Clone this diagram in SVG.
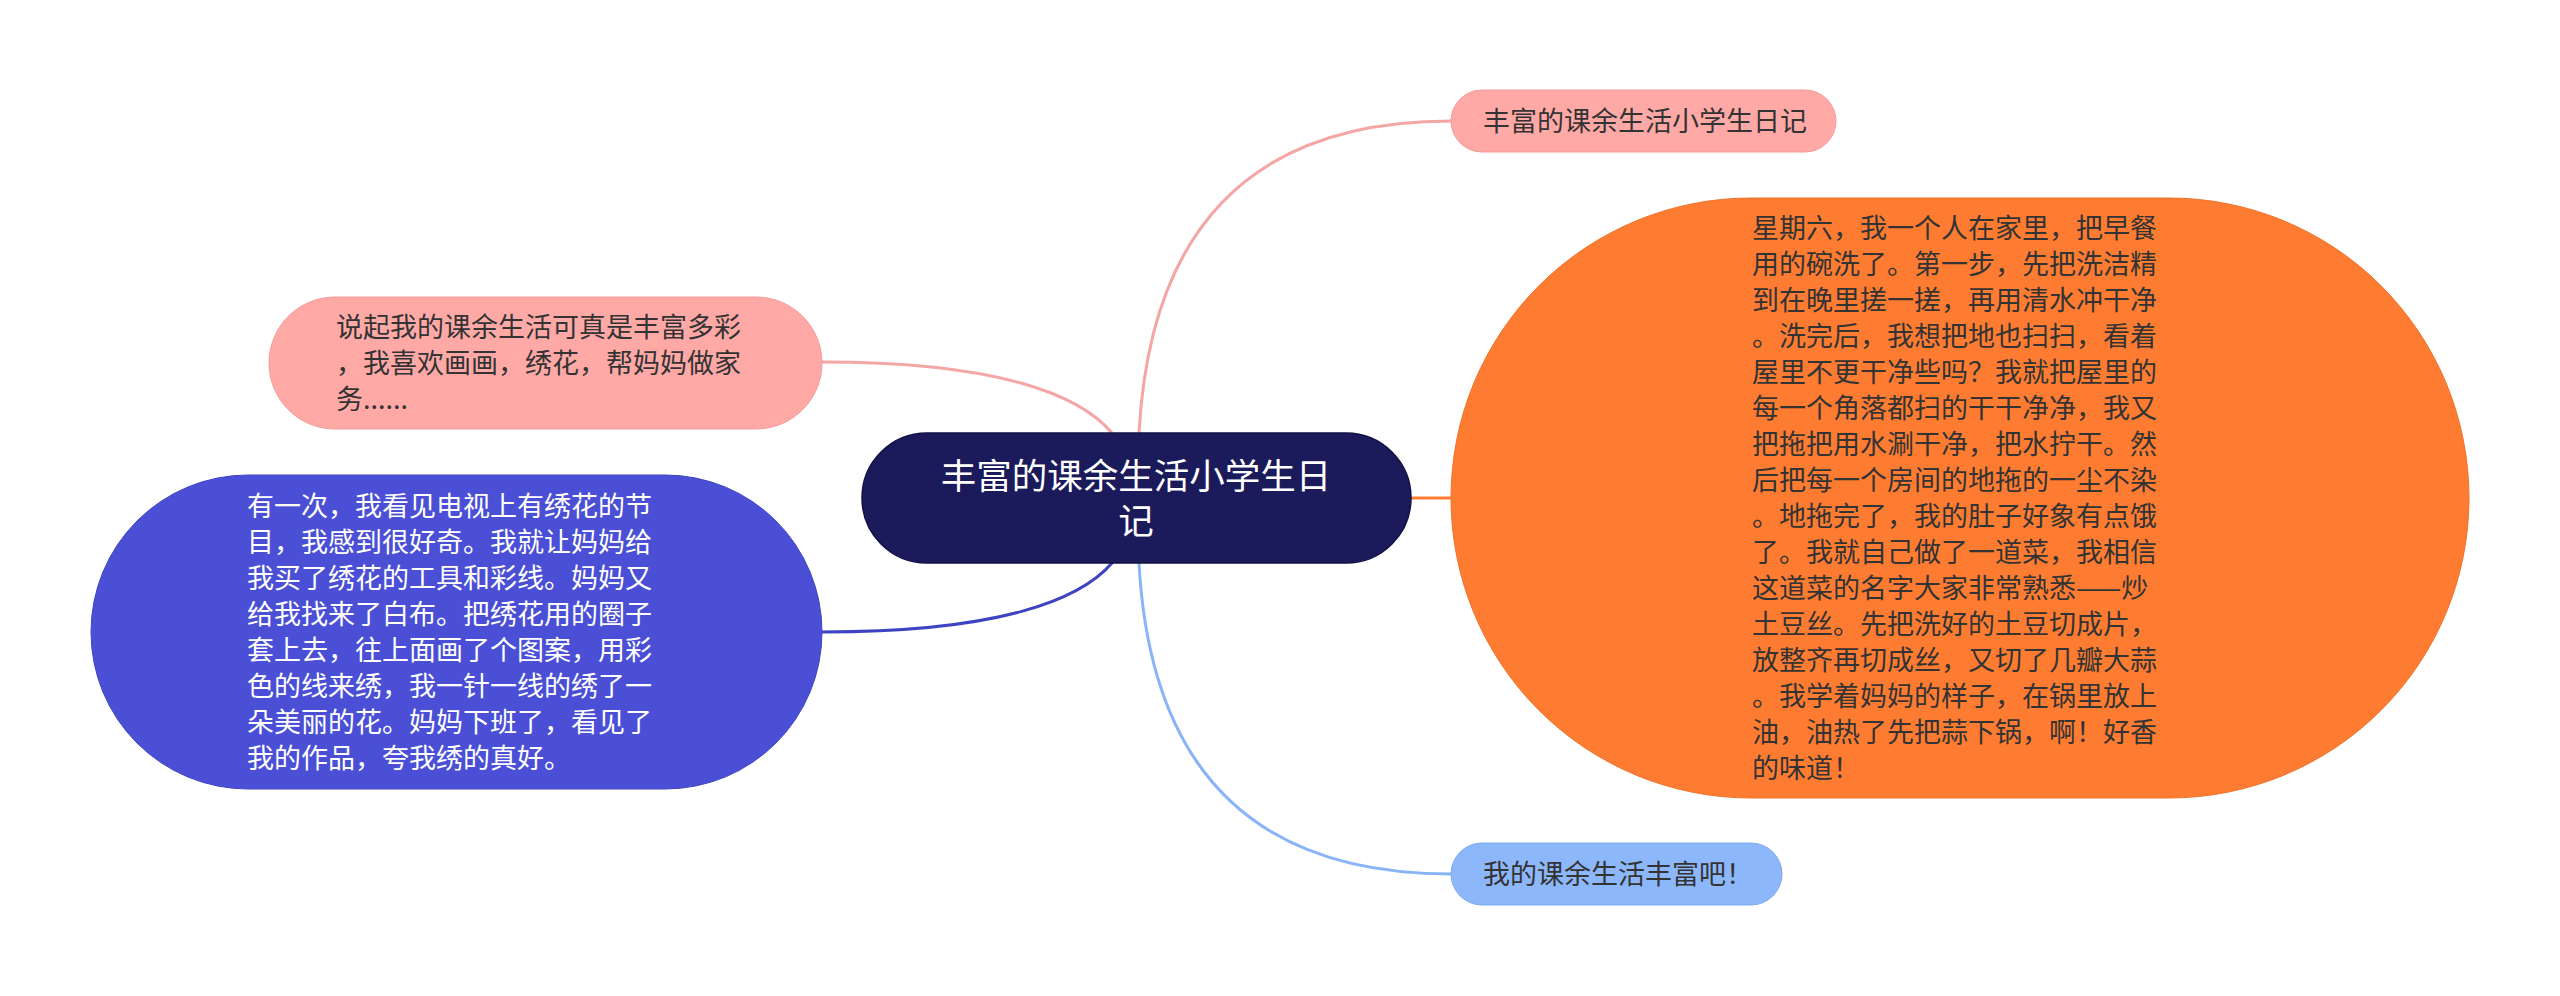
<svg xmlns="http://www.w3.org/2000/svg" width="2560" height="996" viewBox="0 0 2560 996">
<style>
.t{font-family:"Noto Sans CJK SC","Noto Sans",sans-serif;font-size:27px;fill:#333333}
.w{fill:#ffffff}
.c{font-family:"Noto Sans CJK SC","Noto Sans",sans-serif;font-size:35.5px;fill:#ffffff;text-anchor:middle}
.ln{fill:none;stroke-width:3;stroke-linecap:round}
</style>
<rect width="2560" height="996" fill="#ffffff"/>
<g id="connectors">
<path class="ln" stroke="#F4A6A5" d="M1139,433 C1150,230 1250,121 1451,121"/>
<path class="ln" stroke="#FD7C31" d="M1411,498 L1451,498"/>
<path class="ln" stroke="#8AB4F8" d="M1139,563 C1150,766 1250,874 1451,874"/>
<path class="ln" stroke="#F4A6A5" d="M822,362 C1000,362 1080,395 1112,433"/>
<path class="ln" stroke="#3D43C2" d="M822,632 C1000,632 1080,600 1112,563"/>
</g>
<g id="center">
<rect x="862" y="433" width="549" height="130" rx="65" fill="#1B1A5B" stroke="#121146" stroke-width="1.5"/>
<text class="c" x="1136" y="488.5">丰富的课余生活小学生日</text>
<text class="c" x="1136" y="533.5">记</text>
</g>
<g id="node-title">
<rect x="1451" y="90" width="385" height="62" rx="31" fill="#FFA9A7" stroke="#F49C9A" stroke-width="1"/>
<text class="t" x="1483" y="131">丰富的课余生活小学生日记</text>
</g>
<g id="node-orange">
<rect x="1451" y="198" width="1018" height="600" rx="300" fill="#FD7C31" stroke="#F07228" stroke-width="1"/>
<text class="t">
<tspan x="1752" y="238">星期六，我一个人在家里，把早餐</tspan>
<tspan x="1752" y="274">用的碗洗了。第一步，先把洗洁精</tspan>
<tspan x="1752" y="310">到在晚里搓一搓，再用清水冲干净</tspan>
<tspan x="1752" y="346">。洗完后，我想把地也扫扫，看着</tspan>
<tspan x="1752" y="382">屋里不更干净些吗？我就把屋里的</tspan>
<tspan x="1752" y="418">每一个角落都扫的干干净净，我又</tspan>
<tspan x="1752" y="454">把拖把用水涮干净，把水拧干。然</tspan>
<tspan x="1752" y="490">后把每一个房间的地拖的一尘不染</tspan>
<tspan x="1752" y="526">。地拖完了，我的肚子好象有点饿</tspan>
<tspan x="1752" y="562">了。我就自己做了一道菜，我相信</tspan>
<tspan x="1752" y="598">这道菜的名字大家非常熟悉——炒</tspan>
<tspan x="1752" y="634">土豆丝。先把洗好的土豆切成片，</tspan>
<tspan x="1752" y="670">放整齐再切成丝，又切了几瓣大蒜</tspan>
<tspan x="1752" y="706">。我学着妈妈的样子，在锅里放上</tspan>
<tspan x="1752" y="742">油，油热了先把蒜下锅，啊！好香</tspan>
<tspan x="1752" y="778">的味道！</tspan>
</text>
</g>
<g id="node-end">
<rect x="1451" y="843" width="331" height="62" rx="31" fill="#8DB7FB" stroke="#7FA9F0" stroke-width="1"/>
<text class="t" x="1483" y="884">我的课余生活丰富吧！</text>
</g>
<g id="node-intro">
<rect x="269" y="297" width="553" height="132" rx="66" fill="#FFA9A7" stroke="#F49C9A" stroke-width="1"/>
<text class="t">
<tspan x="336" y="337">说起我的课余生活可真是丰富多彩</tspan>
<tspan x="336" y="373">，我喜欢画画，绣花，帮妈妈做家</tspan>
<tspan x="336" y="409">务......</tspan>
</text>
</g>
<g id="node-embroidery">
<rect x="91" y="475" width="731" height="314" rx="157" fill="#4A4FD6" stroke="#3E43C4" stroke-width="1"/>
<text class="t w">
<tspan x="247" y="516">有一次，我看见电视上有绣花的节</tspan>
<tspan x="247" y="552">目，我感到很好奇。我就让妈妈给</tspan>
<tspan x="247" y="588">我买了绣花的工具和彩线。妈妈又</tspan>
<tspan x="247" y="624">给我找来了白布。把绣花用的圈子</tspan>
<tspan x="247" y="660">套上去，往上面画了个图案，用彩</tspan>
<tspan x="247" y="696">色的线来绣，我一针一线的绣了一</tspan>
<tspan x="247" y="732">朵美丽的花。妈妈下班了，看见了</tspan>
<tspan x="247" y="768">我的作品，夸我绣的真好。</tspan>
</text>
</g>
</svg>
